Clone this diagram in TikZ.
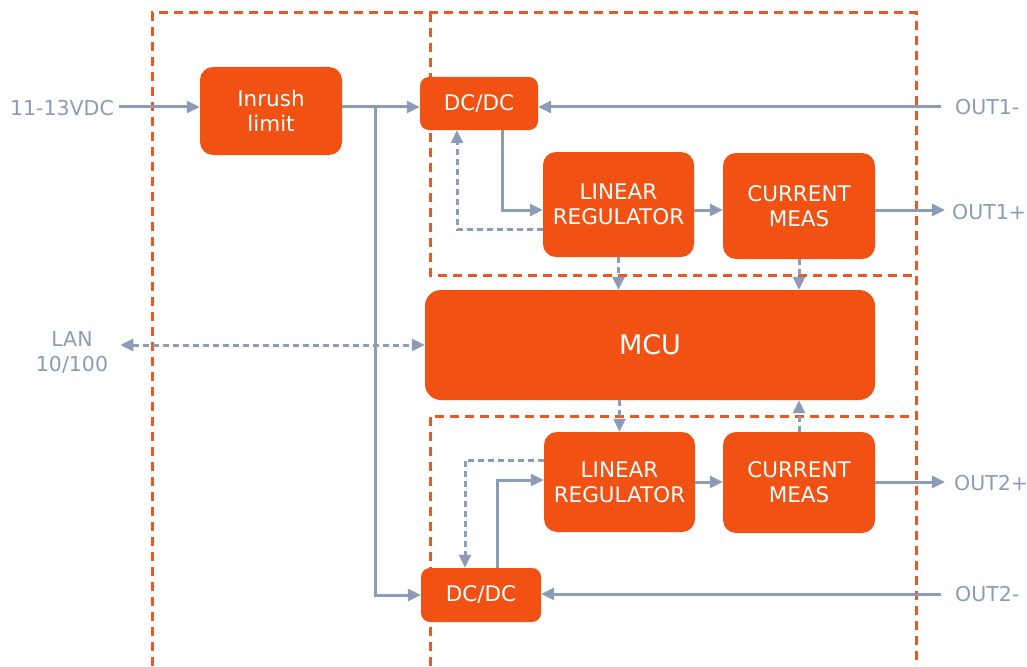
\documentclass[tikz,border=0pt]{standalone}
\usepackage{fontspec}
\setmainfont{DejaVu Sans}
\usetikzlibrary{arrows.meta}
\definecolor{blockorange}{RGB}{241,81,19}
\definecolor{frameorange}{RGB}{234,88,38}
\definecolor{wiregray}{RGB}{140,155,182}

\begin{document}
\begin{tikzpicture}[x=1pt,y=-1pt,>={Triangle[length=13pt,width=12pt]},
    block node/.style={fill=blockorange,text=white,rounded corners=13pt,align=center,inner sep=0pt,font=\fontsize{21.5}{25}\selectfont},
    io node/.style={text=wiregray,align=center,inner sep=2pt,font=\fontsize{20.5}{25}\selectfont},
    wire/.style={draw=wiregray,line width=3pt},
    signal/.style={wire,dash pattern=on 6pt off 4pt},
    frame/.style={draw=frameorange,line width=3pt,dash pattern=on 9pt off 6pt}]

    \useasboundingbox (0,0) rectangle (1027,666);

    % dashed frames
    \draw[frame] (152,666) -- (152,13) -- (916,13) -- (916,666);
    \draw[frame] (430,13) -- (430,275) -- (916,275);
    \draw[frame] (430,666) -- (430,416) -- (916,416);

    \node (1) [block node,minimum width=142,minimum height=88] at (271,111) {Inrush\\limit};
    \node (2) [block node,minimum width=118,minimum height=53,rounded corners=9pt] at (479,103.5) {DC/DC};
    \node (3) [block node,minimum width=151,minimum height=105] at (618.5,204.5) {LINEAR\\REGULATOR};
    \node (4) [block node,minimum width=152,minimum height=106] at (799,206) {CURRENT\\MEAS};
    \node (5) [block node,minimum width=450,minimum height=110,rounded corners=16pt,font=\fontsize{27}{30}\selectfont] at (650,345) {MCU};
    \node (6) [block node,minimum width=151,minimum height=100] at (619.5,482) {LINEAR\\REGULATOR};
    \node (7) [block node,minimum width=152,minimum height=101] at (799,482.5) {CURRENT\\MEAS};
    \node (8) [block node,minimum width=120,minimum height=54,rounded corners=9pt] at (481,595) {DC/DC};

    \node (9) [io node] at (62,108) {11-13VDC};
    \node (10) [io node,anchor=west] at (953,107) {OUT1-};
    \node (11) [io node,anchor=west] at (950,212) {OUT1+};
    \node (12) [io node] at (72,352) {LAN\\10/100};
    \node (13) [io node,anchor=west] at (952,483) {OUT2+};
    \node (14) [io node,anchor=west] at (953,594) {OUT2-};

    \coordinate (j) at (375,107);

    % power path
    \draw[wire,->] ([xshift=3pt]9.east |- j) -- (1.west |- j);
    \draw[wire] (1.east |- j) -- (j);
    \draw[wire,->] (j) -- (j -| 2.west);
    \draw[wire,->] (j) |- (8.west);
    \draw[wire,->] ([xshift=-12pt]10.west) -- (2.east |- 10.west);
    \draw[wire,->] ([xshift=23pt]2.south) |- ([yshift=-5.5pt]3.west);
    \draw[wire,->] (3.east |- 0,210) -- (4.west |- 0,210);
    \draw[wire,->] (4.east |- 0,210) -- ([xshift=-5pt]11.west |- 0,210);
    \draw[wire,->] ([xshift=-12pt]14.west) -- (8.east |- 14.west);
    \draw[wire,->] ([xshift=16pt]8.north) |- ([yshift=2pt]6.west);
    \draw[wire,->] (6.east) -- (7.west |- 6.east);
    \draw[wire,->] (7.east |- 6.east) -- ([xshift=-7pt]13.west |- 6.east);

    % control signals
    \draw[signal,->] ([yshift=-25pt]3.west) -| ([xshift=-22pt]2.south);
    \draw[signal,->] ([yshift=22pt]6.west) -| ([xshift=-16pt]8.north);
    \draw[signal,->] (3.south) -- (3.south |- 5.north);
    \draw[signal,->] (4.south) -- (4.south |- 5.north);
    \draw[signal,->] (6.north |- 5.south) -- (6.north);
    \draw[signal,->] (7.north) -- (7.north |- 5.south);
    \draw[signal,<->] ([xshift=10pt]12.east |- 5.west) -- (5.west);
\end{tikzpicture}
\end{document}
